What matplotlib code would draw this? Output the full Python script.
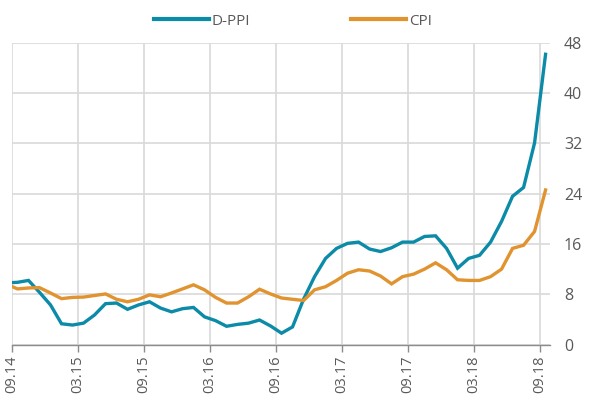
import numpy as np
import matplotlib
matplotlib.use("Agg")
import matplotlib.pyplot as plt

# monthly readings, Aug 2014 .. Sep 2018 (first one sits just left of the axis)
months = [f"{m:02d}.{y % 100:02d}" for y in range(2014, 2019) for m in range(1, 13)]
months = months[7:7 + 50]

d_ppi = [9.8, 9.9, 10.2, 8.3, 6.3, 3.3, 3.1, 3.4, 4.7, 6.5,
         6.6, 5.6, 6.3, 6.8, 5.8, 5.2, 5.7, 5.9, 4.4, 3.8,
         2.9, 3.2, 3.4, 3.9, 2.95, 1.8, 2.8, 7.2, 10.8, 13.7,
         15.3, 16.1, 16.3, 15.2, 14.8, 15.4, 16.3, 16.3, 17.2, 17.3,
         15.3, 12.15, 13.7, 14.2, 16.3, 19.6, 23.6, 25.0, 32.1, 46.2]
cpi = [9.6, 8.85, 9.0, 9.05, 8.2, 7.3, 7.5, 7.55, 7.8, 8.05,
       7.2, 6.8, 7.2, 7.9, 7.6, 8.2, 8.85, 9.5, 8.7, 7.5,
       6.6, 6.6, 7.6, 8.8, 8.05, 7.4, 7.2, 7.0, 8.7, 9.2,
       10.2, 11.35, 11.9, 11.7, 10.9, 9.65, 10.8, 11.2, 12.0, 13.0,
       11.9, 10.3, 10.2, 10.2, 10.8, 12.0, 15.3, 15.8, 18.0, 24.6]

tick_labels = ["09.14", "03.15", "09.15", "03.16", "09.16",
               "03.17", "09.17", "03.18", "09.18"]
y_ticks = [0, 8, 16, 24, 32, 40, 48]

plt.rcParams['font.family'] = ['Open Sans', 'DejaVu Sans']

BLUE = "#0B8BA7"
ORANGE = "#E0932F"
GRID = "#d9d9d9"
TXT = "#595959"

fig = plt.figure(figsize=(5.92, 4.09), dpi=100)
ax = fig.add_axes([0.0203, 0.1577, 0.9087, 0.7372])

# points sit mid-month, a tick marks the start of its month
x = np.arange(len(months)) - 0.5
ax.plot(x, d_ppi, color=BLUE, lw=2.4, label="D-PPI", solid_joinstyle="miter", zorder=3)
ax.plot(x, cpi, color=ORANGE, lw=2.4, label="CPI", solid_joinstyle="miter", zorder=3)

ax.set_xlim(0, 48.9)
ax.set_ylim(0, 48)

tick_pos = [months.index(t) - 1 for t in tick_labels]
ax.set_xticks(tick_pos)
ax.set_xticklabels(tick_labels, rotation=90, fontsize=10.5, color=TXT)
ax.set_yticks(y_ticks)
ax.set_yticklabels([str(v) for v in y_ticks], fontsize=11.5, color=TXT)
ax.yaxis.tick_right()
ax.tick_params(axis="y", length=0, pad=10)
ax.tick_params(axis="x", length=5, width=1, color="#8c8c8c", pad=3)

ax.grid(True, color=GRID, lw=1.2, zorder=0)
ax.set_axisbelow(True)
for s in ["top", "left", "right"]:
    ax.spines[s].set_visible(False)
ax.spines["bottom"].set_color("#8c8c8c")
ax.spines["bottom"].set_linewidth(1.0)

leg = fig.legend(loc="upper center", bbox_to_anchor=(0.495, 1.0), ncol=2, frameon=False,
                 fontsize=11, handlelength=3.6, columnspacing=6.6, handletextpad=0.2)
for t in leg.get_texts():
    t.set_color(TXT)
for h in leg.get_lines():
    h.set_linewidth(3)

fig.savefig("out.png", dpi=100)
